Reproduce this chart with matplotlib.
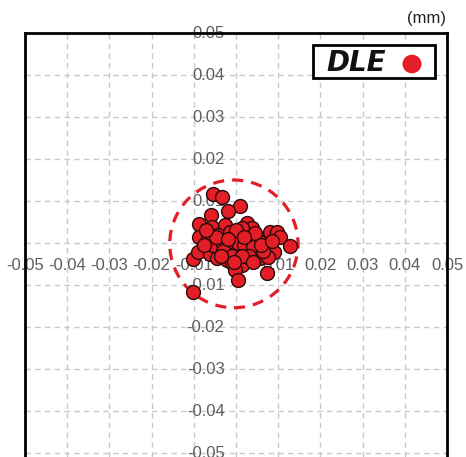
import matplotlib.pyplot as plt
from matplotlib.patches import Circle, Rectangle

plt.rcParams['font.family'] = ['Liberation Sans', 'DejaVu Sans']

# measured deviations (mm)
dx = [-0.0054, -0.0034, 0.0010, -0.0018, -0.0060, -0.0088, -0.0056, -0.0025,
      0.0025, 0.0037, -0.0087, -0.0066, -0.0042, -0.0014, -0.0002, 0.0010,
      0.0021, 0.0033, 0.0049, 0.0065, 0.0081, 0.0097, 0.0105, 0.0129,
      -0.0102, -0.0090, -0.0062, -0.0042, -0.0026, -0.0006, 0.0010, 0.0029,
      0.0049, 0.0057, 0.0073, 0.0089, -0.0046, -0.0022, -0.0010, 0.0014,
      -0.0002, 0.0029, 0.0057, 0.0077, 0.0073, 0.0005, -0.0102, -0.0054,
      -0.0034, -0.0015, 0.0005, 0.0020, -0.0030, 0.0040, 0.0015, -0.0010,
      0.0065, -0.0048, 0.0030, 0.0000, 0.0045, -0.0070, 0.0060, 0.0085,
      -0.0020, 0.0015, -0.0035, 0.0040, -0.0075, 0.0020, -0.0005]
dy = [0.0117, 0.0110, 0.0089, 0.0076, 0.0067, 0.0045, 0.0037, 0.0043,
      0.0047, 0.0035, 0.0015, 0.0011, 0.0019, 0.0027, 0.0019, 0.0023,
      0.0007, 0.0011, 0.0007, 0.0003, 0.0027, 0.0027, 0.0015, -0.0007,
      -0.0039, -0.0021, -0.0025, -0.0017, -0.0009, -0.0013, -0.0013, -0.0017,
      -0.0017, 0.0003, -0.0017, -0.0021, -0.0036, -0.0040, -0.0048, -0.0052,
      -0.0064, -0.0033, -0.0036, -0.0033, -0.0072, -0.0088, -0.0116, -0.0005,
      0.0003, 0.0005, 0.0000, -0.0005, -0.0020, -0.0010, 0.0035, -0.0030,
      -0.0020, 0.0015, -0.0030, 0.0030, 0.0025, 0.0030, -0.0005, 0.0005,
      0.0010, -0.0030, -0.0030, -0.0045, -0.0005, 0.0015, -0.0045]

ticks = [-0.05, -0.04, -0.03, -0.02, -0.01, 0, 0.01, 0.02, 0.03, 0.04, 0.05]
labels = ['-0.05', '-0.04', '-0.03', '-0.02', '-0.01', '0', '0.01', '0.02', '0.03', '0.04', '0.05']

red = '#e31e26'
gray = '#5e5e5e'

fig = plt.figure(figsize=(4.66, 4.57), dpi=100)
ax = fig.add_axes([25 / 466, 0, 422 / 466, 424 / 457])
ax.set_xlim(-0.05, 0.05)
ax.set_ylim(-0.05 - 4 / 4240, 0.05)
ax.set_xticks([])
ax.set_yticks([])

# dashed grid every 0.01
for t in ticks:
    ax.axvline(t, color='#c8c8c8', lw=1, ls=(0, (4, 3)), zorder=0)
    ax.axhline(t, color='#c8c8c8', lw=1, ls=(0, (4, 3)), zorder=0)

for s in ['left', 'right', 'top']:
    ax.spines[s].set_linewidth(2)
    ax.spines[s].set_color('black')
ax.spines['bottom'].set_visible(False)

# tick labels drawn along the centre lines
for t, lab in zip(ticks, labels):
    ax.text(t, -0.0053, lab, ha='center', va='center', fontsize=12, color=gray, zorder=1)
    ax.text(-0.0027, t, lab, ha='right', va='center', fontsize=12, color=gray, zorder=1)

ax.add_patch(Circle((-0.0005, -0.0002), 0.0152, fill=False, ec=red, lw=2.3,
                    ls=(0, (3.5, 2.5)), zorder=2))
ax.scatter(dx, dy, s=100, c=red, edgecolors='#2a0a0a', linewidths=1, zorder=3)

fig.text(446 / 466, 1 - 18 / 457, '(mm)', ha='right', va='center', fontsize=12, color='#222222')
fig.patches.append(Rectangle((313 / 466, 1 - 78 / 457), 122 / 466, 33 / 457,
                             transform=fig.transFigure, fill=True, fc='white',
                             ec='black', lw=2, zorder=5))
fig.text(326 / 466, 1 - 63 / 457, 'DLE', ha='left', va='center', fontsize=20,
         fontweight='bold', fontstyle='italic', family='DejaVu Sans', color='#111111', zorder=6)
fig.patches.append(Circle((412 / 466, 1 - 64 / 457), 9.5 / 466, transform=fig.transFigure,
                          fc=red, ec='none', zorder=6))

fig.savefig('out.png', dpi=100)
